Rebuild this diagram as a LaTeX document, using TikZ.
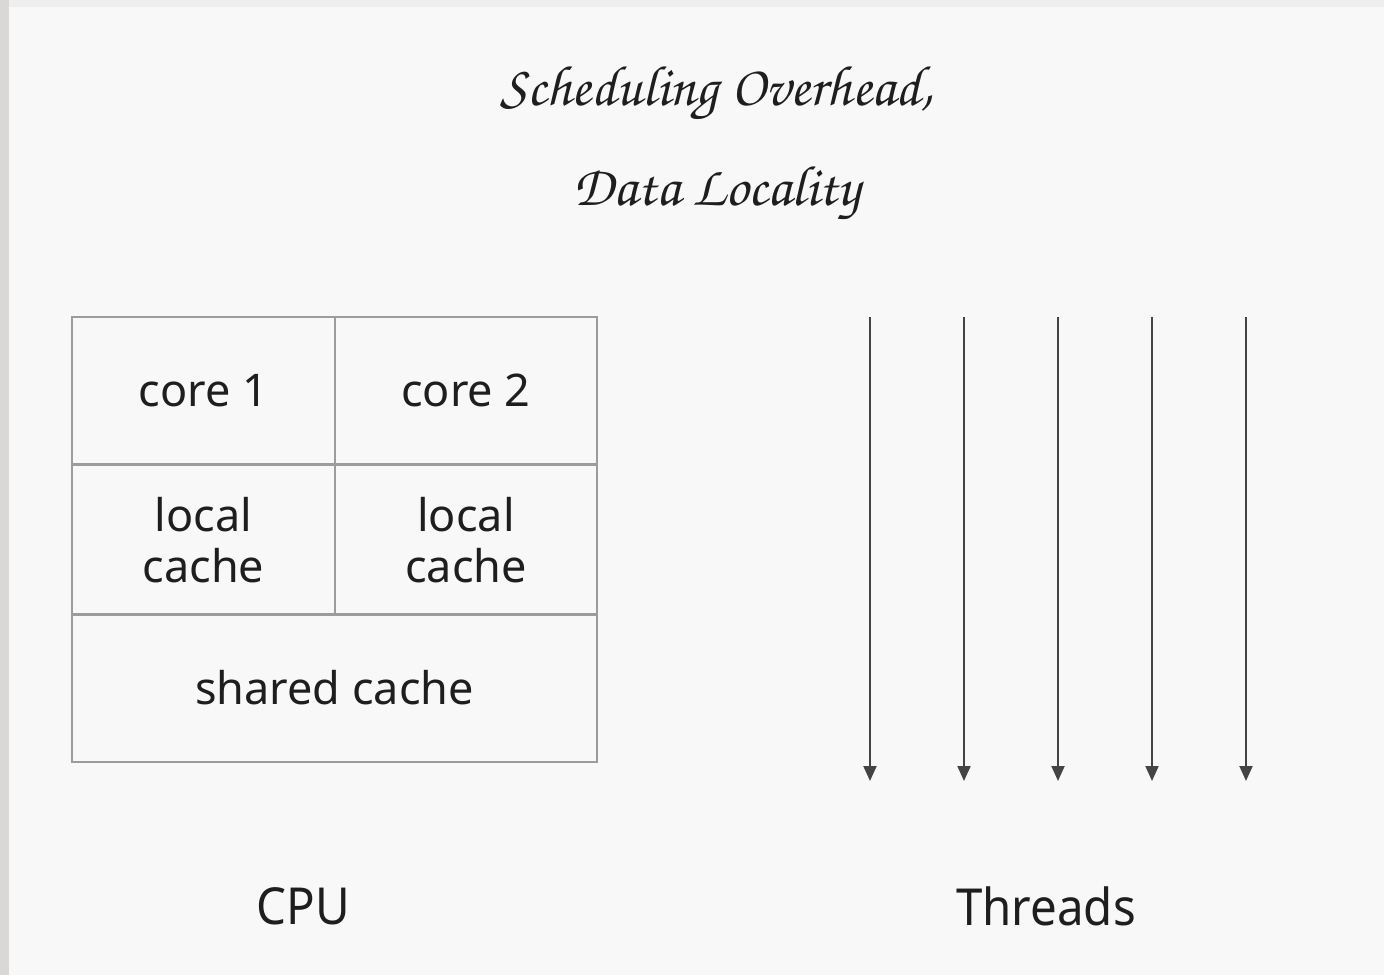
\documentclass[tikz,border=0pt]{standalone}
\usepackage{fontspec}
\setmainfont{Noto Sans}
\newfontfamily\condfont[FakeStretch=0.93]{Noto Sans}
\usetikzlibrary{arrows.meta}
\definecolor{bgpaper}{HTML}{F8F8F8}
\definecolor{edgegray}{HTML}{DAD8D6}
\definecolor{topgray}{HTML}{EEEEEE}
\definecolor{cellline}{HTML}{9C9C9C}
\definecolor{inktext}{HTML}{1E1E1E}
\definecolor{threadline}{HTML}{444444}
\newcommand{\handfont}{\fontencoding{T1}\fontfamily{pzc}\fontseries{mb}\fontshape{it}\selectfont}
\begin{document}
\begin{tikzpicture}[x=1pt,y=-1pt,
  cell/.style={draw=cellline,line width=2pt,rectangle,inner sep=0pt,
    text=inktext,align=center,font=\fontsize{45}{51}\selectfont},
  caption/.style={text=inktext,font=\condfont\fontsize{51}{56}\selectfont},
  titletext/.style={text=inktext,font=\handfont\fontsize{57}{60}\selectfont},
  thread/.style={draw=threadline,line width=2pt,-{Triangle[length=15pt,width=13pt]}}]
  % page
  \fill[bgpaper] (0,0) rectangle (1384,975);
  \fill[edgegray] (0,0) rectangle (9,975);
  \fill[topgray] (9,0) rectangle (1384,7);
  \useasboundingbox (0,0) rectangle (1384,975);

  % title
  \node[titletext] (title1) at (717,94) {Scheduling Overhead,};
  \node[titletext] (title2) at (717,194) {Data Locality};

  % CPU block
  \node[cell,minimum width=263pt,minimum height=147pt] (core1) at (203.5,390.5) {core 1};
  \node[cell,minimum width=262pt,minimum height=147pt] (core2) at (466,390.5) {core 2};
  \node[cell,minimum width=263pt,minimum height=150pt] (local1) at (203.5,540) {local\\cache};
  \node[cell,minimum width=262pt,minimum height=150pt] (local2) at (466,540) {local\\cache};
  \node[cell,minimum width=525pt,minimum height=148pt] (shared) at (334.5,688) {shared cache};

  \node[caption] (cpu) at (303,906) {CPU};

  % threads
  \foreach \i/\x in {1/870,2/964,3/1058,4/1152,5/1246}{
    \coordinate (ts\i) at (\x,317);
    \coordinate (te\i) at (\x,781);
    \draw[thread] (ts\i) -- (te\i);
  }
  \node[caption] (threads) at (1046,906) {Threads};
\end{tikzpicture}
\end{document}
